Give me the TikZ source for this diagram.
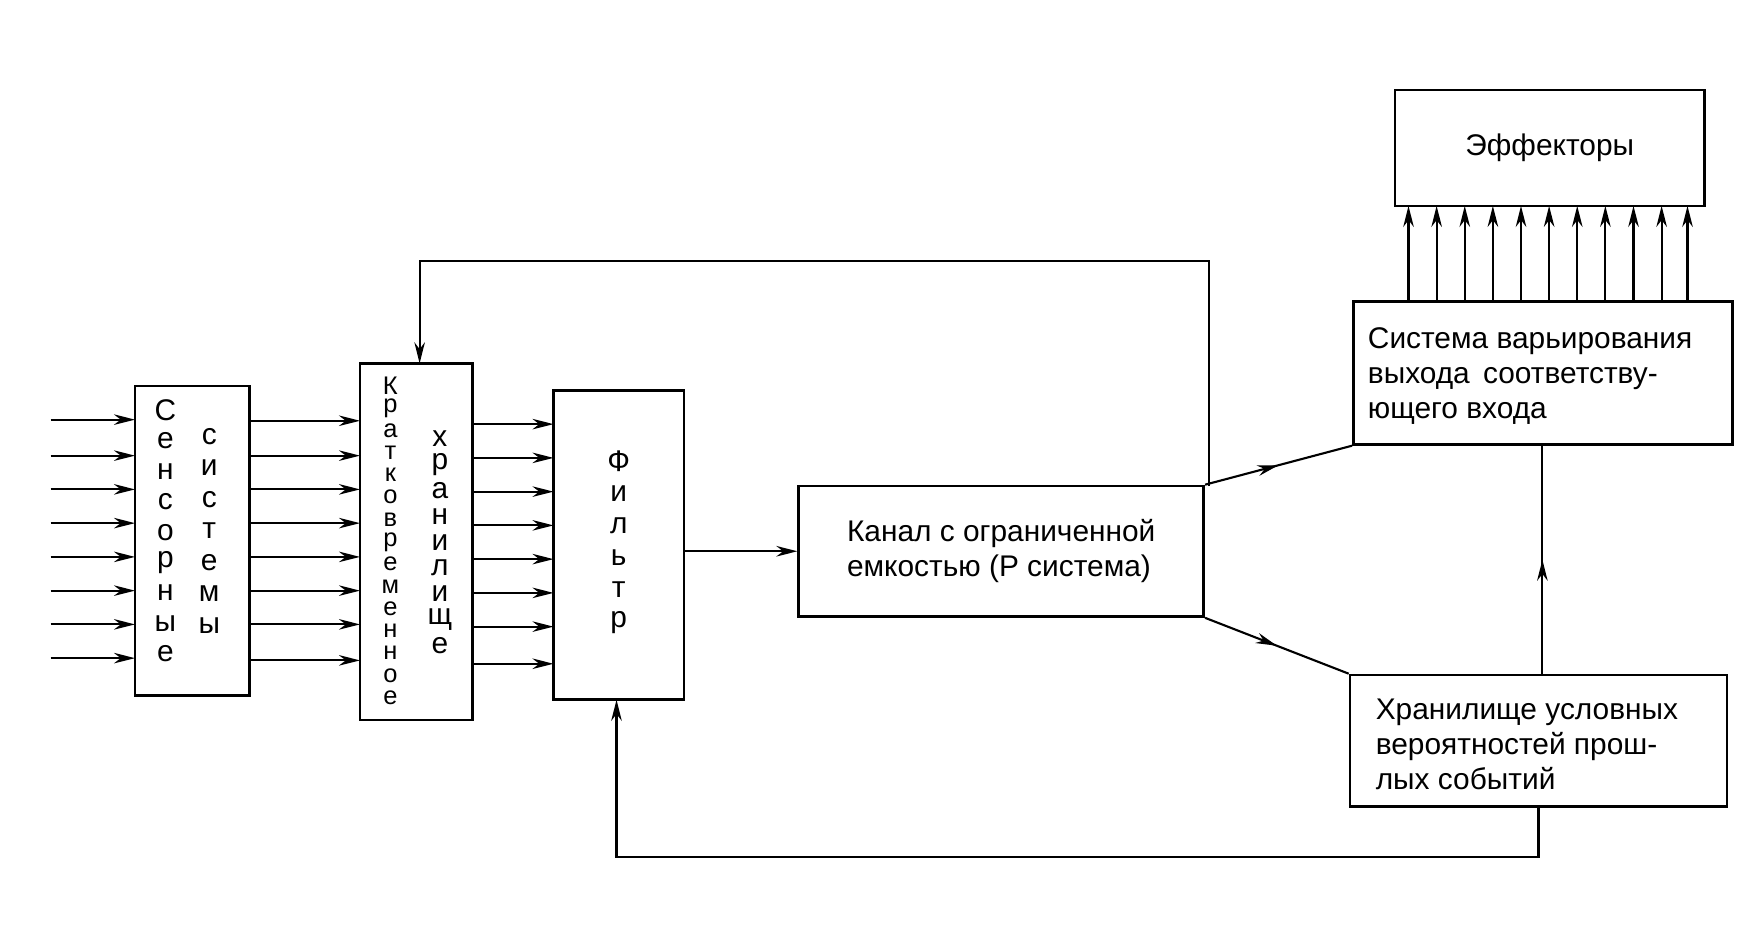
\documentclass[tikz,border=0pt]{standalone}
\usepackage{fontspec}
\setmainfont{Liberation Sans}
\usetikzlibrary{arrows.meta,decorations.markings}
\begin{document}
\begin{tikzpicture}[x=0.0225cm,y=-0.0225cm,line width=1.2pt,
  box/.style={draw,line width=1.5pt},
  arr/.style={-{Stealth[length=12pt,width=6pt]}},
  midarr/.style={postaction={decorate},decoration={markings,mark=at position 0.5 with {\arrow{Stealth[length=12pt,width=6pt]}}}},
  lt/.style={font=\fontsize{17}{20}\selectfont,inner sep=0pt},
  st/.style={font=\fontsize{14.5}{16}\selectfont,inner sep=0pt}]
\useasboundingbox (0,0) rectangle (1568,842.7);
\draw[box] (120,343) rectangle (222,618);
\draw[box] (320,323) rectangle (420,640);
\draw[box] (492,347) rectangle (608,622);
\node[box,minimum width=360*0.0225cm,minimum height=116*0.0225cm,align=left,lt,inner sep=0pt] (kan) at (890,490) {Канал с ограниченной\\емкостью (Р система)};
\node[box,minimum width=337*0.0225cm,minimum height=127*0.0225cm,lt] (sys) at (1371.5,331.5) {};
\node[lt,align=left,anchor=north west] at (1215,290) {Система варьирования\\выхода\, соответству-\\ющего входа};
\node[box,minimum width=335*0.0225cm,minimum height=117*0.0225cm,lt] (hr) at (1367.5,658.5) {};
\node[lt,align=left,anchor=north west] at (1222,620) {Хранилище условных\\вероятностей прош-\\лых событий};
\node[box,minimum width=275*0.0225cm,minimum height=103*0.0225cm,lt] (eff) at (1377.5,131.5) {Эффекторы};
% letters
\foreach \c [count=\i from 0] in {С,е,н,с,о,р,н,ы,е} \node[lt] at (147,365+27*\i) {\c};
\foreach \c [count=\i from 0] in {с,и,с,т,е,м,ы} \node[lt] at (186,388+28*\i) {\c};
\foreach \c [count=\i from 0] in {К,р,а,т,к,о,в,р,е,м,е,н,н,о,е} \node[st] at (347,343+19.8*\i) {\c};
\foreach \c [count=\i from 0] in {х,р,а,н,и,л,и,щ,е} \node[lt] at (391,390+23*\i) {\c};
\foreach \c [count=\i from 0] in {Ф,и,л,ь,т,р} \node[lt] at (550,410+28.6*\i) {\c};
% arrows
\foreach \y in {373,405,435,465,495,525,555,585} \draw[arr] (45,\y) -- (120,\y);
\foreach \y in {374,405,435,465,495,525,555,587} \draw[arr] (222,\y) -- (320,\y);
\foreach \y in {377,407,437,467,497,527,557,590} \draw[arr] (420,\y) -- (492,\y);
\draw[arr] (608,490) -- (kan.west);
\draw[arr] (1075,432) -- (1075,232) -- (373,232) -- (373,323);
\draw[midarr] (kan.north east) -- (sys.south west);
\draw[midarr] (kan.south east) -- (hr.north west);
\draw[midarr] (hr.north -| 1371,0) -- (sys.south -| 1371,0);
\draw[arr] (hr.south) -- (1367.5,762) -- (548,762) -- (548,622);
\foreach \x in {1252,1277,1302,1327,1352,1377,1402,1427,1452,1477,1500} \draw[arr] (\x,268) -- (\x,183);
\end{tikzpicture}
\end{document}
